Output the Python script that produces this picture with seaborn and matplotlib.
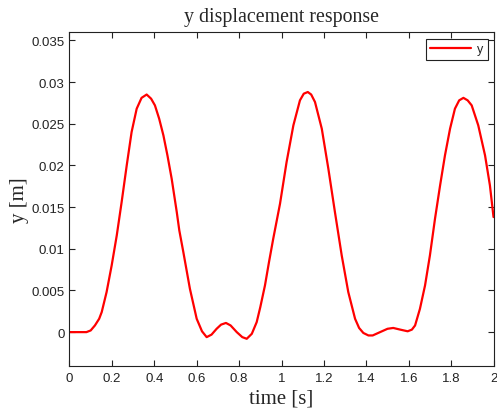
import numpy as np
import matplotlib
matplotlib.use("Agg")
import matplotlib.pyplot as plt
import seaborn as sns
from matplotlib.ticker import FuncFormatter

# time samples [s] and vertical displacement [m]
time_s = [0.000, 0.040, 0.080, 0.100, 0.120, 0.140, 0.152, 0.175, 0.199, 0.223,
          0.246, 0.270, 0.293, 0.317, 0.340, 0.364, 0.385, 0.403, 0.423, 0.443,
          0.462, 0.482, 0.506, 0.518, 0.537, 0.568, 0.600, 0.625, 0.647, 0.670,
          0.694, 0.715, 0.738, 0.760, 0.789, 0.815, 0.836, 0.860, 0.883, 0.900,
          0.922, 0.941, 0.961, 0.993, 1.024, 1.056, 1.087, 1.105, 1.124, 1.140,
          1.158, 1.190, 1.221, 1.252, 1.284, 1.315, 1.347, 1.366, 1.386, 1.410,
          1.430, 1.465, 1.500, 1.527, 1.560, 1.595, 1.615, 1.630, 1.653, 1.677,
          1.700, 1.724, 1.748, 1.771, 1.795, 1.818, 1.838, 1.858, 1.878, 1.897,
          1.928, 1.960, 1.983, 2.000]
y_disp = [0.0000, 0.0000, 0.0000, 0.0002, 0.0008, 0.0016, 0.0024, 0.0048, 0.0080, 0.0116,
          0.0156, 0.0200, 0.0240, 0.0268, 0.0281, 0.0285, 0.0280, 0.0272, 0.0256, 0.0236,
          0.0212, 0.0184, 0.0144, 0.0122, 0.0096, 0.0052, 0.0016, 0.0001, -0.0006, -0.0003,
          0.0004, 0.0009, 0.0011, 0.0008, 0.0000, -0.0006, -0.0008, -0.0002, 0.0012, 0.0030,
          0.0056, 0.0084, 0.0112, 0.0154, 0.0204, 0.0248, 0.0278, 0.0286, 0.0288, 0.0285,
          0.0276, 0.0244, 0.0196, 0.0144, 0.0092, 0.0048, 0.0016, 0.0005, -0.0001, -0.0004,
          -0.0004, 0.0000, 0.0004, 0.0005, 0.0003, 0.0001, 0.0003, 0.0008, 0.0028, 0.0056,
          0.0092, 0.0136, 0.0176, 0.0212, 0.0244, 0.0268, 0.0278, 0.0281, 0.0278, 0.0272,
          0.0248, 0.0212, 0.0176, 0.0138]

x_ticks = [0, 0.2, 0.4, 0.6, 0.8, 1.0, 1.2, 1.4, 1.6, 1.8, 2.0]
y_ticks = [0, 0.005, 0.01, 0.015, 0.02, 0.025, 0.03, 0.035]

sns.set_style("ticks")
plt.rcParams["font.family"] = ["Liberation Sans", "DejaVu Sans"]
plt.rcParams["xtick.direction"] = "in"
plt.rcParams["ytick.direction"] = "in"

fig = plt.figure(figsize=(4.97, 4.14), dpi=100)
fig.patch.set_facecolor("white")
ax = fig.add_axes([0.1398, 0.1128, 0.8532, 0.8075])

sns.lineplot(x=time_s, y=y_disp, ax=ax, color="#ff0000", linewidth=1.6,
             label="y", sort=True)

ax.set_xlim(0, 2)
ax.set_ylim(-0.0041, 0.036)
ax.set_xticks(x_ticks)
ax.set_yticks(y_ticks)
fmt = FuncFormatter(lambda v, p: "%g" % v)
ax.xaxis.set_major_formatter(fmt)
ax.yaxis.set_major_formatter(fmt)
ax.tick_params(axis="both", which="major", labelsize=9.5, length=4, width=0.8,
               top=True, right=True, colors="#222222", labelcolor="#222222")
ax.tick_params(axis="x", pad=4)
for side in ax.spines.values():
    side.set_visible(True)
    side.set_color("#222222")
    side.set_linewidth(0.8)

serif = ["Liberation Serif", "DejaVu Serif"]
ax.set_title("y displacement response", family=serif, fontsize=14.3, pad=8)
ax.set_xlabel("time [s]", family=serif, fontsize=15, labelpad=3)
ax.set_ylabel("y [m]", family=serif, fontsize=15, labelpad=2)

leg = ax.legend(loc="upper right", bbox_to_anchor=(0.987, 0.979), borderaxespad=0,
                fontsize=9, handlelength=3.3, fancybox=False, frameon=True,
                borderpad=0.35, handletextpad=0.5)
leg.get_frame().set_edgecolor("#222222")
leg.get_frame().set_linewidth(0.8)
leg.get_frame().set_alpha(1)

fig.savefig("out.png", dpi=100, facecolor="white")
